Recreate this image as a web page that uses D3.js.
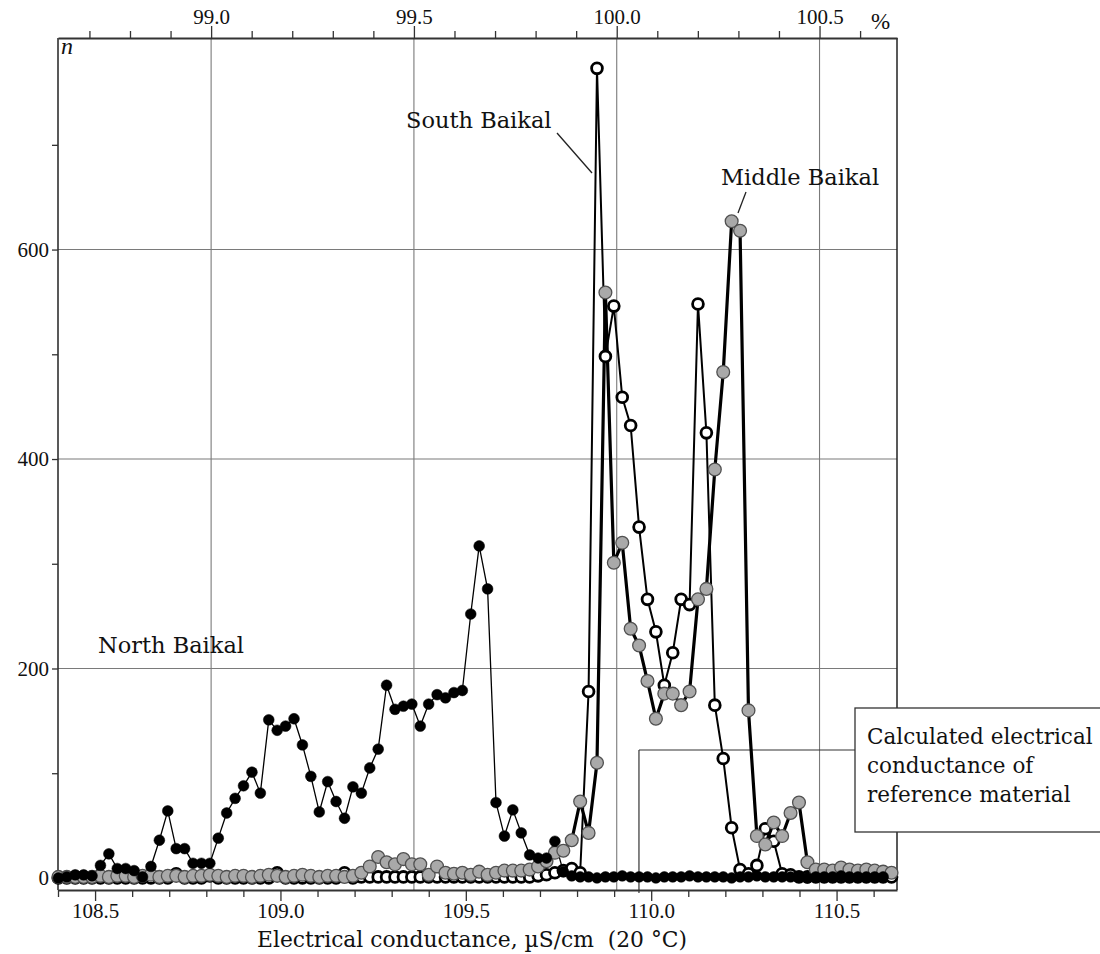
<!DOCTYPE html>
<html><head><meta charset="utf-8">
<script src="https://cdn.jsdelivr.net/npm/d3@7"></script>
<style>
html,body{margin:0;padding:0;background:#fff;}
svg{display:block;}
</style></head><body>
<svg id="chart" width="1100" height="954"></svg>
<script>
// Histogram bins of electrical conductance, µS/cm at 20 °C
const binStart = 108.401;
const binWidth = 0.0227;
const binCount = 100;

// Number of samples per bin
const northBaikal = [
  0,1,3,3,2, 12,23,9,9,7, 1,11,36,64,28, 28,14,14,14,38,
  62,76,88,101,81, 151,141,145,152,127, 97,63,92,73,57, 87,81,105,123,184,
  161,164,166,145,166, 175,172,177,179,252, 317,276,72,40,65, 43,22,19,19,35,
  6,2,1,1,0, 1,1,2,1,1, 1,0,1,1,1, 2,1,1,1,1, 0,1,1,2,1, 1,1,1,1,0, 1,1,1,2,1, 1,1,1,1
];
const southBaikal = [
  0,0,0,0,0, 0,0,0,0,0, 0,0,0,0,4, 0,0,0,2,0,
  0,0,0,0,0, 0,5,0,0,0, 0,0,0,0,5, 0,1,1,1,1,
  1,1,1,1,1, 1,1,1,1,1, 1,1,1,1,1, 1,1,2,3,5,
  7,9,5,178,773, 498,546,459,432,335, 266,235,184,215,266, 261,548,425,165,114,
  48,8,4,12,47, 35,4,3,1,1, 1,1,1,1,1, 1,1,1,1,1
];
const middleBaikal = [
  1,1,1,1,1, 2,1,2,2,1, 2,3,1,2,2, 1,2,2,3,2,
  1,2,2,1,2, 3,2,1,2,3, 2,1,2,2,1, 2,5,11,20,15,
  13,18,13,13,3, 11,5,4,5,3, 6,3,5,7,7, 7,8,11,16,24,
  26,36,73,43,110, 559,301,320,238,222, 188,152,176,176,165, 178,266,276,390,483,
  627,618,160,40,32, 53,40,62,72,15, 8,8,7,10,8, 7,8,7,6,5
];

// Axis ticks
const conductanceTicks = [108.5, 109.0, 109.5, 110.0, 110.5];
const conductanceMinorTicks = [108.4,108.6,108.7,108.8,108.9,109.1,109.2,109.3,109.4,
  109.6,109.7,109.8,109.9,110.1,110.2,110.3,110.4,110.6];
const percentTicks = [99.0, 99.5, 100.0, 100.5];
const percentMinorTicks = [98.7,98.8,98.9,99.1,99.2,99.3,99.4,99.6,99.7,99.8,99.9,
  100.1,100.2,100.3,100.4,100.6];
const countTicks = [0, 200, 400, 600];
const countMinorTicks = [100, 300, 500, 700];
const countGrid = [200, 400, 600];

// Conductance of the reference material
const referenceConductance = 109.967;

(function draw() {
  const bins = d3.range(binCount).map(i => binStart + i * binWidth);

  const plot = {left: 58, right: 897, top: 38, bottom: 890};

  const x = d3.scaleLinear().domain([108.400, 110.663]).range([plot.left, plot.right]);
  const xPct = d3.scaleLinear().domain([98.6225, 100.691]).range([plot.left, plot.right]);
  const y = d3.scaleLinear().domain([-11.5, 802]).range([plot.bottom, plot.top]);

  const svg = d3.select("#chart");
  const serif = "'DejaVu Serif', serif";
  const tickFont = "'Liberation Serif', 'Times New Roman', serif";

  // grid
  const grid = svg.append("g").attr("stroke", "#7a7a7a").attr("stroke-width", 1.1);
  grid.selectAll(".vg").data(percentTicks).join("line")
    .attr("x1", d => xPct(d)).attr("x2", d => xPct(d))
    .attr("y1", plot.top).attr("y2", plot.bottom);
  grid.selectAll(".hg").data(countGrid).join("line")
    .attr("x1", plot.left).attr("x2", plot.right)
    .attr("y1", d => y(d)).attr("y2", d => y(d));

  // reference material marker
  const xr = x(referenceConductance);
  svg.append("line").attr("x1", xr).attr("x2", xr).attr("y1", 750).attr("y2", plot.bottom + 3)
    .attr("stroke", "#333").attr("stroke-width", 1.2);
  svg.append("line").attr("x1", xr).attr("x2", 855).attr("y1", 750).attr("y2", 750)
    .attr("stroke", "#333").attr("stroke-width", 1.2);

  // frame sides
  svg.append("line").attr("x1", plot.left).attr("x2", plot.left).attr("y1", plot.top).attr("y2", plot.bottom)
    .attr("stroke", "#222").attr("stroke-width", 1.5);
  svg.append("line").attr("x1", plot.right).attr("x2", plot.right).attr("y1", plot.top).attr("y2", plot.bottom)
    .attr("stroke", "#222").attr("stroke-width", 1.5);

  function styleAxis(g) {
    g.attr("font-family", null).attr("font-size", null);
    g.select(".domain").attr("stroke", "#333").attr("stroke-width", 2);
    g.selectAll(".tick line").attr("stroke", "#333").attr("stroke-width", 1.3);
    g.selectAll(".tick text").attr("fill", "#111").style("font-family", tickFont).style("font-size", "21px");
  }
  function minor(g) {
    g.select(".domain").remove();
    g.selectAll("line").attr("stroke", "#333").attr("stroke-width", 1.3);
  }

  // bottom axis
  const axisB = svg.append("g").attr("transform", `translate(0,${plot.bottom})`)
    .call(d3.axisBottom(x).tickValues(conductanceTicks).tickFormat(d3.format(".1f"))
      .tickSize(11).tickPadding(2).tickSizeOuter(0));
  styleAxis(axisB);
  svg.append("g").attr("transform", `translate(0,${plot.bottom})`)
    .call(d3.axisBottom(x).tickValues(conductanceMinorTicks).tickFormat("").tickSize(7).tickSizeOuter(0))
    .call(minor);

  // top axis
  const axisT = svg.append("g").attr("transform", `translate(0,${plot.top})`)
    .call(d3.axisTop(xPct).tickValues(percentTicks).tickFormat(d3.format(".1f"))
      .tickSize(12).tickPadding(2).tickSizeOuter(0));
  styleAxis(axisT);
  svg.append("g").attr("transform", `translate(0,${plot.top})`)
    .call(d3.axisTop(xPct).tickValues(percentMinorTicks).tickFormat("").tickSize(7).tickSizeOuter(0))
    .call(minor);

  // left axis
  const axisL = svg.append("g").attr("transform", `translate(${plot.left},0)`)
    .call(d3.axisLeft(y).tickValues(countTicks).tickFormat(d3.format("d"))
      .tickSize(6).tickPadding(3).tickSizeOuter(0));
  styleAxis(axisL);
  axisL.select(".domain").remove();
  svg.append("g").attr("transform", `translate(${plot.left},0)`)
    .call(d3.axisLeft(y).tickValues(countMinorTicks).tickFormat("").tickSize(6).tickSizeOuter(0))
    .call(minor);

  // series
  const line = d3.line().x((d, i) => x(bins[i])).y(d => y(d));
  const series = [
    {values: southBaikal, lw: 2.0, r: 5.4, fill: "#fff", stroke: "#000", sw: 2.8},
    {values: middleBaikal, lw: 3.2, r: 6.4, fill: "#a9a9a9", stroke: "#505050", sw: 1.3},
    {values: northBaikal, lw: 1.3, r: 5.4, fill: "#000", stroke: "#000", sw: 0.5}
  ];
  series.forEach(s => {
    svg.append("path").datum(s.values).attr("d", line)
      .attr("fill", "none").attr("stroke", "#000").attr("stroke-width", s.lw)
      .attr("stroke-linejoin", "round");
  });
  series.forEach(s => {
    svg.append("g").selectAll("circle").data(s.values).join("circle")
      .attr("cx", (d, i) => x(bins[i])).attr("cy", d => y(d)).attr("r", s.r)
      .attr("fill", s.fill).attr("stroke", s.stroke).attr("stroke-width", s.sw);
  });

  // labels
  function label(txt, px, py, size, opts = {}) {
    return svg.append("text").attr("x", px).attr("y", py)
      .style("font-family", opts.font || serif).style("font-size", size + "px")
      .style("font-style", opts.italic ? "italic" : "normal")
      .attr("text-anchor", opts.anchor || "start").attr("fill", "#111")
      .style("white-space", "pre").text(txt);
  }
  label("n", 61, 54, 24, {italic: true, font: tickFont});
  label("%", 871, 29, 23, {font: tickFont});
  label("South Baikal", 406, 128, 22.5);
  svg.append("line").attr("x1", 557).attr("y1", 133).attr("x2", 592).attr("y2", 173)
    .attr("stroke", "#222").attr("stroke-width", 1.3);
  label("Middle Baikal", 721, 185, 22.5);
  svg.append("line").attr("x1", 746).attr("y1", 192).attr("x2", 738).attr("y2", 213)
    .attr("stroke", "#222").attr("stroke-width", 1.3);
  label("North Baikal", 98, 653, 22.5);

  // reference material box
  svg.append("rect").attr("x", 855).attr("y", 708).attr("width", 260).attr("height", 124)
    .attr("fill", "#fff").attr("stroke", "#333").attr("stroke-width", 1.3);
  label("Calculated electrical", 867, 744, 21.5);
  label("conductance of", 867, 773, 21.5);
  label("reference material", 867, 802, 21.5);

  // axis title
  label("Electrical conductance, \u00b5S/cm  (20 \u00b0C)", 257, 947, 21.8);
})();
</script>
</body></html>
